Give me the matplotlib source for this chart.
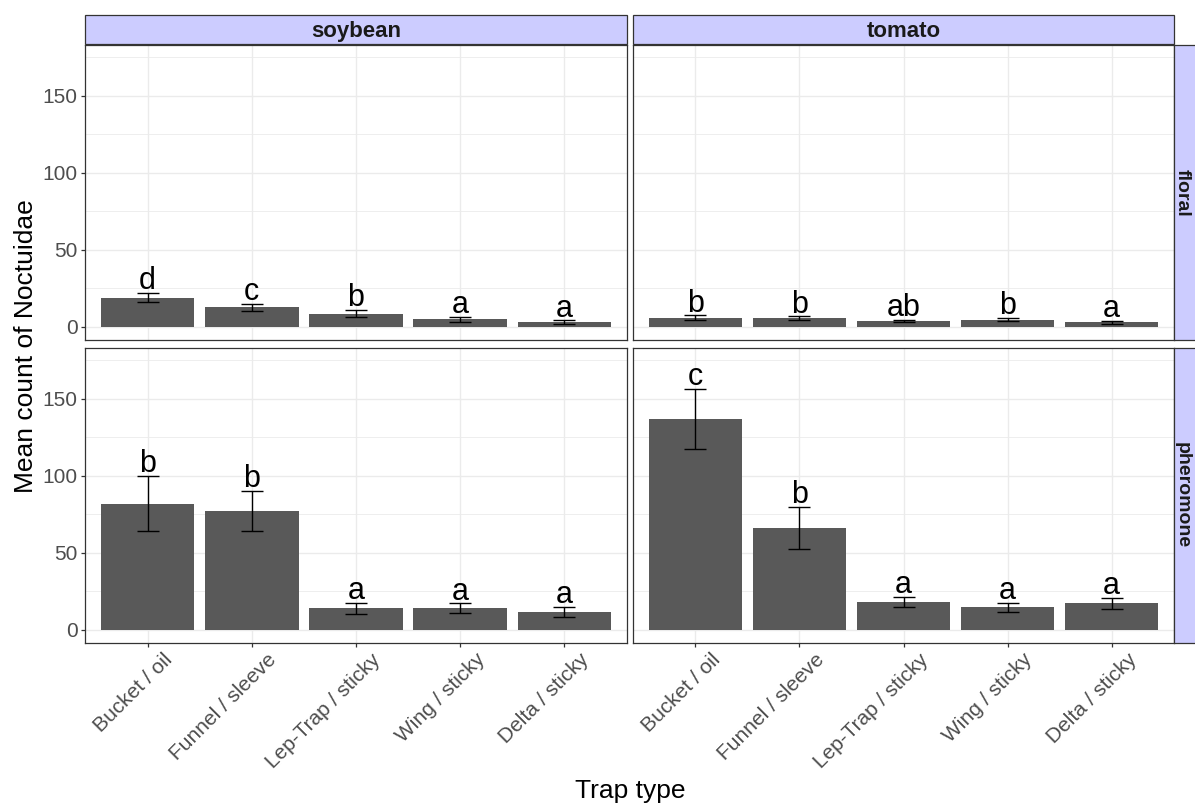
"""
Trap type comparison: mean count of Noctuidae, faceted by crop and lure
"""
import matplotlib
matplotlib.use('Agg')
import matplotlib.pyplot as plt
import matplotlib.transforms as mtransforms
import numpy as np
from matplotlib.patches import Rectangle

# ###
# 1.Data
# ###
traps  = ['Bucket / oil', 'Funnel / sleeve', 'Lep-Trap / sticky', 'Wing / sticky', 'Delta / sticky']
crops  = ['soybean', 'tomato']
lures  = ['floral', 'pheromone']

soy_floral_mean   = [18.8, 12.5, 8.4, 4.8, 2.9]
soy_floral_se     = [3.0, 2.5, 2.2, 1.5, 1.1]
soy_floral_let    = ['d', 'c', 'b', 'a', 'a']

tom_floral_mean   = [5.8, 5.4, 3.9, 4.6, 2.8]
tom_floral_se     = [1.5, 1.2, 0.7, 1.0, 0.8]
tom_floral_let    = ['b', 'b', 'ab', 'b', 'a']

soy_pher_mean     = [81.8, 76.9, 13.8, 13.8, 11.5]
soy_pher_se       = [18.0, 13.0, 3.5, 3.2, 3.0]
soy_pher_let      = ['b', 'b', 'a', 'a', 'a']

tom_pher_mean     = [136.8, 66.0, 18.0, 14.6, 17.0]
tom_pher_se       = [19.6, 13.5, 3.5, 3.0, 3.7]
tom_pher_let      = ['c', 'b', 'a', 'a', 'a']

# ###
# 2.Style
# ###
W, H = 1195, 806
FONT        = 'Liberation Sans'
COLOR_BAR   = '#595959'
COLOR_GRID  = '#ebebeb'
COLOR_FRAME = '#333333'
COLOR_TICK  = '#4d4d4d'
COLOR_STRIP = '#ccccff'
COLOR_STXT  = '#1a1a1a'

plt.rcParams['font.family'] = FONT

# panel boxes in pixels
COL_X = [(85, 627), (633, 1174)]
ROW_Y = [(45, 340), (348, 643)]

panels = {
    (0, 0): (soy_floral_mean, soy_floral_se, soy_floral_let),
    (0, 1): (tom_floral_mean, tom_floral_se, tom_floral_let),
    (1, 0): (soy_pher_mean, soy_pher_se, soy_pher_let),
    (1, 1): (tom_pher_mean, tom_pher_se, tom_pher_let),
}


def px_rect(x0, y0, x1, y1):
    return [x0 / W, 1 - y1 / H, (x1 - x0) / W, (y1 - y0) / H]


fig = plt.figure(figsize=(W / 100, H / 100), dpi=100, facecolor='w')
x = np.arange(1, len(traps) + 1)

for (r, c), (mean, se, let) in panels.items():
    x0, x1 = COL_X[c]
    y0, y1 = ROW_Y[r]
    ax = fig.add_axes(px_rect(x0, y0, x1, y1))
    ax.set_xlim(0.4, 5.6)
    ax.set_ylim(-8.7, 183)

    # grid
    ax.set_yticks([0, 50, 100, 150])
    ax.set_yticks([25, 75, 125, 175], minor=True)
    ax.set_xticks(x)
    ax.grid(which='major', color=COLOR_GRID, linewidth=1.0, zorder=0)
    ax.grid(which='minor', axis='y', color=COLOR_GRID, linewidth=0.6, zorder=0)
    ax.set_axisbelow(True)

    mean = np.array(mean)
    se = np.array(se)
    ax.bar(x, mean, width=0.9, color=COLOR_BAR, zorder=2)
    ax.errorbar(x, mean, yerr=se, fmt='none', ecolor='black', elinewidth=1.0,
                capsize=7.9, capthick=1.0, zorder=3)
    for xi, top, t in zip(x, mean + se, let):
        ax.text(xi, top + 2.5, t, ha='center', va='baseline', fontsize=22, color='black', zorder=4)

    for s in ax.spines.values():
        s.set_color(COLOR_FRAME)
        s.set_linewidth(0.9)

    ax.tick_params(axis='both', which='major', length=3, width=0.9, color=COLOR_FRAME,
                   pad=2.2, labelsize=15, labelcolor=COLOR_TICK)
    ax.tick_params(axis='both', which='minor', length=0)

    if c == 0:
        ax.set_yticklabels(['0', '50', '100', '150'])
    else:
        ax.tick_params(axis='y', which='major', length=0, labelleft=False)

    if r == 1:
        ax.tick_params(axis='x', pad=2.0)
        ax.set_xticklabels(traps, rotation=45, ha='right', va='top', rotation_mode='anchor')
        shift = mtransforms.ScaledTranslation(11 / 72, 0, fig.dpi_scale_trans)
        for lab in ax.get_xticklabels():
            lab.set_transform(lab.get_transform() + shift)
    else:
        ax.tick_params(axis='x', length=0, labelbottom=False)

# strips: top (crop)
for c, name in enumerate(crops):
    x0, x1 = COL_X[c]
    fig.patches.append(Rectangle((x0 / W, 1 - 44 / H), (x1 - x0) / W, 29 / H,
                                 transform=fig.transFigure, facecolor=COLOR_STRIP,
                                 edgecolor=COLOR_FRAME, linewidth=0.9))
    fig.text((x0 + x1) / 2 / W, 1 - 37 / H, name, ha='center', va='baseline',
             fontsize=16, fontweight='bold', color=COLOR_STXT)

# strips: right (lure), cut by the picture edge as in the source
for r, name in enumerate(lures):
    y0, y1 = ROW_Y[r]
    fig.patches.append(Rectangle((1174 / W, 1 - y1 / H), 30 / W, (y1 - y0) / H,
                                 transform=fig.transFigure, facecolor=COLOR_STRIP,
                                 edgecolor=COLOR_FRAME, linewidth=0.9))
    fig.text(1177.5 / W, 1 - (y0 + y1) / 2 / H, name, rotation=-90, rotation_mode='anchor',
             ha='center', va='baseline', fontsize=14, fontweight='bold', color=COLOR_STXT)

# axis titles
fig.text(33 / W, 1 - 346 / H, 'Mean count of Noctuidae', rotation=90, rotation_mode='anchor',
         ha='center', va='baseline', fontsize=19, color='black')
fig.text(630 / W, 1 - 798 / H, 'Trap type', ha='center', va='baseline', fontsize=19, color='black')

fig.savefig('out.png', dpi=100, facecolor='w')
